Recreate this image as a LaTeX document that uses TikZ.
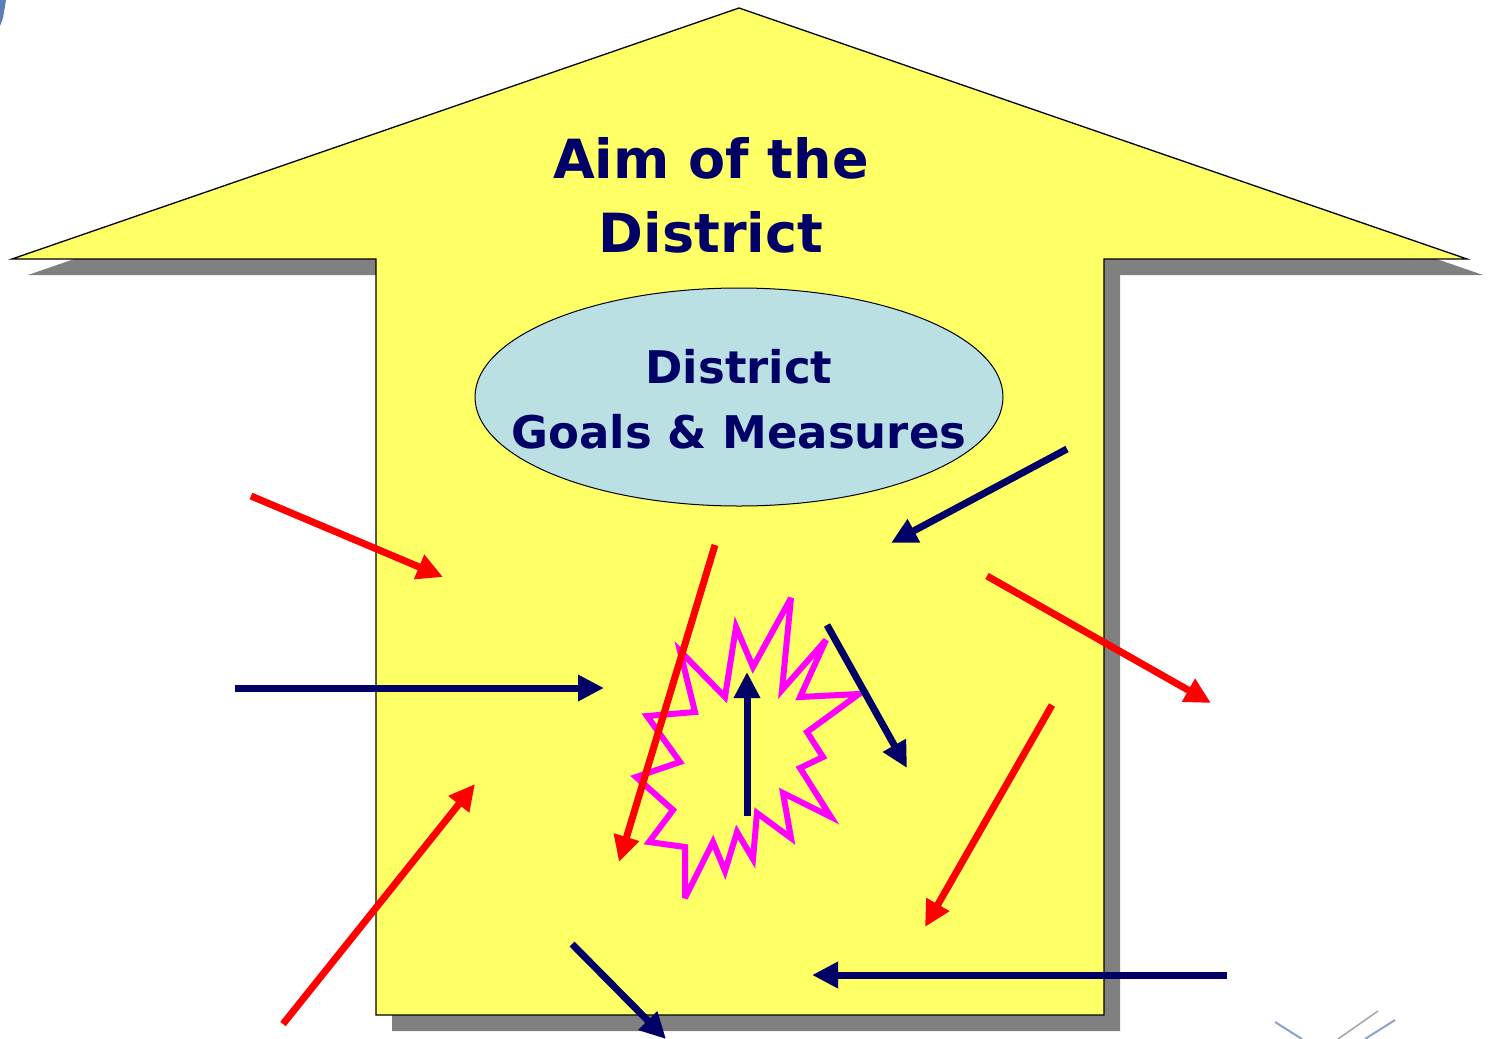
\documentclass[tikz,border=0pt]{standalone}
\usepackage{fontspec}
\setmainfont{DejaVu Sans}
\usetikzlibrary{arrows.meta,shapes.geometric}
\definecolor{ayellow}{HTML}{FFFF66}
\definecolor{anavy}{HTML}{000066}
\definecolor{ablue}{HTML}{BBE0E3}
\definecolor{ashadow}{HTML}{808080}
\definecolor{amag}{HTML}{FF00FF}
\definecolor{ared}{HTML}{FF0000}
\definecolor{aclip}{HTML}{5B7DB8}
\tikzset{
  redarrow/.style={draw=ared,line width=7pt,-{Triangle[length=26pt,width=25pt]}},
  navyarrow/.style={draw=anavy,line width=7pt,-{Triangle[length=26pt,width=25pt]}},
  bigarrow/.style={fill=ayellow,draw=black,line width=1.3pt,line join=miter},
  shadowshape/.style={fill=ashadow,draw=none},
  bursts/.style={draw=amag,line width=6pt,line join=miter,miter limit=4},
  lbl/.style={text=anavy,font=\bfseries,align=center}
}
\begin{document}
\begin{tikzpicture}[x=1pt,y=-1pt]
\useasboundingbox (0,0) rectangle (1489,1039);
\fill[white] (0,0) rectangle (1489,1039);
% clipart fragments
\fill[aclip] (0,0) -- (6,0) -- (3,18) -- (0,26) -- cycle;
\draw[aclip,line width=2pt,opacity=0.7] (1275,1022) -- (1302,1039);
\draw[aclip,line width=2pt,opacity=0.7] (1395,1020) -- (1365,1039);
\draw[gray,line width=1.5pt,opacity=0.7] (1338,1039) -- (1378,1011);
% shadow
\path[shadowshape,shift={(16,16)}] (739,8) -- (1467,259) -- (1104,259) -- (1104,1015) -- (376,1015) -- (376,259) -- (12,259) -- cycle;
% big arrow
\path[bigarrow] (739,8) -- (1467,259) -- (1104,259) -- (1104,1015) -- (376,1015) -- (376,259) -- (12,259) -- cycle;
\node[lbl,font=\bfseries\fontsize{54}{74}\selectfont] (aim) at (711,195) {Aim of the\\District};
\node[ellipse,draw=black,line width=1pt,fill=ablue,minimum width=528pt,minimum height=218pt,inner sep=0pt] (goal) at (739,397) {};
\node[lbl,font=\bfseries\fontsize{45}{65}\selectfont] (goaltxt) at (739,399) {District\\Goals \& Measures};
% starburst
\draw[bursts] (791,598) -- (782,690) -- (826,640) -- (800,697) -- (859,694) -- (807,732) -- (823,757) -- (800,768) -- (831,817) -- (783,793) -- (791,838) -- (757,813) -- (753,859) -- (737,832) -- (725,871) -- (713,842) -- (685,898) -- (685,847) -- (649,842) -- (673,810) -- (636,777) -- (680,762) -- (647,716) -- (695,712) -- (680,651) -- (725,697) -- (736,627) -- (753,667) -- cycle;
% arrows
\coordinate (r1s) at (251,496); \coordinate (r1e) at (443,577);
\coordinate (n2s) at (1067,449); \coordinate (n2e) at (891,543);
\coordinate (r3s) at (715,545); \coordinate (r3e) at (619,862);
\coordinate (r4s) at (987,576); \coordinate (r4e) at (1211,703);
\coordinate (n5s) at (235,688); \coordinate (n5e) at (604,688);
\coordinate (n6s) at (747,816); \coordinate (n6e) at (747,672);
\coordinate (n7s) at (827,625); \coordinate (n7e) at (907,768);
\coordinate (r8s) at (1052,705); \coordinate (r8e) at (925,927);
\coordinate (r9s) at (283,1024); \coordinate (r9e) at (475,784);
\coordinate (n10s) at (572,944); \coordinate (n10e) at (666,1039);
\coordinate (n11s) at (1227,975); \coordinate (n11e) at (812,975);
\draw[redarrow] (r1s) -- (r1e);
\draw[navyarrow] (n2s) -- (n2e);
\draw[redarrow] (r3s) -- (r3e);
\draw[redarrow] (r4s) -- (r4e);
\draw[navyarrow] (n5s) -- (n5e);
\draw[navyarrow] (n6s) -- (n6e);
\draw[navyarrow] (n7s) -- (n7e);
\draw[redarrow] (r8s) -- (r8e);
\draw[redarrow] (r9s) -- (r9e);
\draw[navyarrow] (n10s) -- (n10e);
\draw[navyarrow] (n11s) -- (n11e);
\end{tikzpicture}
\end{document}
